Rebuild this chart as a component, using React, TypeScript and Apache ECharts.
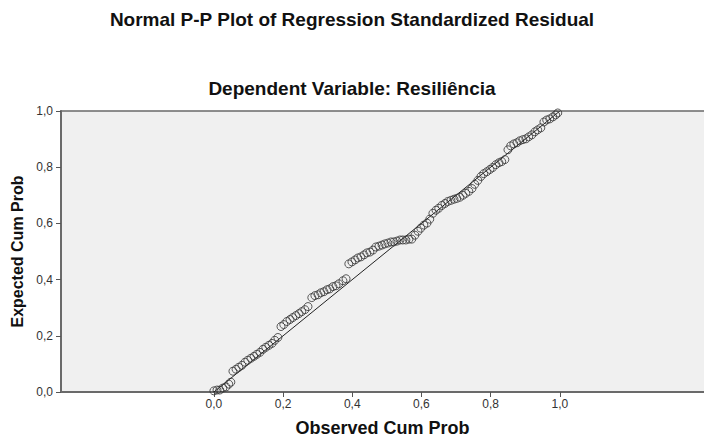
import React, { useEffect, useRef } from "react";
import * as echarts from "echarts";

const titleText = "Normal P-P Plot of Regression Standardized Residual";
const subtitleText = "Dependent Variable: Resiliência";
const xAxisName = "Observed Cum Prob";
const yAxisName = "Expected Cum Prob";
const tickValues = [0, 0.2, 0.4, 0.6, 0.8, 1.0];

const observedCumProb = [
  0.0, 0.009, 0.017, 0.026, 0.035, 0.043, 0.049, 0.055, 0.064, 0.072,
  0.081, 0.09, 0.098, 0.107, 0.116, 0.124, 0.133, 0.142, 0.15, 0.159,
  0.168, 0.176, 0.185, 0.194, 0.202, 0.211, 0.22, 0.228, 0.237, 0.246,
  0.254, 0.263, 0.272, 0.283, 0.292, 0.301, 0.309, 0.318, 0.327, 0.335,
  0.344, 0.353, 0.361, 0.373, 0.382, 0.39, 0.399, 0.408, 0.416, 0.425,
  0.434, 0.442, 0.451, 0.46, 0.468, 0.477, 0.486, 0.494, 0.503, 0.512,
  0.52, 0.529, 0.538, 0.546, 0.555, 0.564, 0.572, 0.581, 0.59, 0.598,
  0.607, 0.616, 0.624, 0.633, 0.642, 0.65, 0.659, 0.668, 0.676, 0.685,
  0.694, 0.702, 0.711, 0.72, 0.728, 0.737, 0.746, 0.754, 0.763, 0.772,
  0.78, 0.789, 0.798, 0.806, 0.815, 0.824, 0.832, 0.841, 0.85, 0.858,
  0.867, 0.876, 0.884, 0.893, 0.902, 0.91, 0.919, 0.928, 0.936, 0.945,
  0.954, 0.962, 0.971, 0.98, 0.988, 0.994,
];

const expectedCumProb = [
  0.004, 0.007, 0.007, 0.014, 0.018, 0.028, 0.035, 0.074, 0.081, 0.088,
  0.095, 0.106, 0.113, 0.12, 0.127, 0.134, 0.141, 0.152, 0.159, 0.166,
  0.173, 0.184, 0.194, 0.233, 0.24, 0.251, 0.258, 0.265, 0.272, 0.279,
  0.286, 0.293, 0.304, 0.336, 0.343, 0.346, 0.353, 0.357, 0.364, 0.367,
  0.375, 0.378, 0.385, 0.396, 0.403, 0.456, 0.463, 0.47, 0.477, 0.481,
  0.488, 0.495, 0.498, 0.505, 0.516, 0.519, 0.523, 0.527, 0.53, 0.534,
  0.534, 0.537, 0.541, 0.541, 0.541, 0.544, 0.544, 0.558, 0.572, 0.583,
  0.594, 0.601, 0.615, 0.636, 0.647, 0.654, 0.664, 0.671, 0.678, 0.682,
  0.686, 0.689, 0.693, 0.7, 0.707, 0.714, 0.724, 0.739, 0.753, 0.767,
  0.777, 0.784, 0.792, 0.799, 0.809, 0.816, 0.82, 0.827, 0.862, 0.876,
  0.883, 0.887, 0.894, 0.898, 0.901, 0.908, 0.915, 0.926, 0.933, 0.94,
  0.961, 0.968, 0.972, 0.979, 0.986, 0.993,
];

const referenceLine = [
  [0, 0],
  [1, 1],
];

const fmt = (v: number) => v.toFixed(1).replace(".", ",");

export default function App() {
  const ref = useRef<HTMLDivElement>(null);
  useEffect(() => {
    document.body.style.margin = "0";
    document.body.style.overflow = "hidden";
    document.documentElement.style.overflow = "hidden";
    if (!ref.current) return;
    const chart = echarts.init(ref.current, undefined, { renderer: "svg" });
    const points = observedCumProb.map((x, i) => [x, expectedCumProb[i]]);
    const font = "Arial, 'Liberation Sans', sans-serif";
    chart.setOption({
      animation: false,
      backgroundColor: "#ffffff",
      graphic: [
        {
          type: "text",
          x: 352,
          y: 19,
          style: {
            text: titleText,
            align: "center",
            verticalAlign: "middle",
            fontFamily: font,
            fontSize: 19,
            fontWeight: "bold",
            fill: "#111",
          },
        },
        {
          type: "text",
          x: 352,
          y: 88,
          style: {
            text: subtitleText,
            align: "center",
            verticalAlign: "middle",
            fontFamily: font,
            fontSize: 19,
            fontWeight: "bold",
            fill: "#111",
          },
        },
      ],
      grid: {
        left: 61,
        top: 111,
        right: 0,
        bottom: 48,
        show: true,
        backgroundColor: "#f0f0f0",
        borderColor: "#6a6a6a",
        borderWidth: 1.5,
      },
      xAxis: {
        type: "value",
        min: -0.442,
        max: 1.463,
        name: xAxisName,
        nameLocation: "middle",
        nameGap: 27,
        nameTextStyle: {
          fontFamily: font,
          fontSize: 18,
          fontWeight: "bold",
          color: "#111",
          padding: [0, 16, 0, 0],
        },
        splitLine: { show: false },
        axisLine: { show: true, onZero: false, lineStyle: { color: "#6a6a6a", width: 2 } },
        axisTick: {
          show: true,
          customValues: tickValues,
          length: 5,
          lineStyle: { color: "#555", width: 1 },
        },
        axisLabel: {
          customValues: tickValues,
          formatter: fmt,
          fontFamily: font,
          fontSize: 12,
          color: "#333",
          margin: 6,
        },
      },
      yAxis: {
        type: "value",
        min: 0,
        max: 1,
        interval: 0.2,
        name: yAxisName,
        nameLocation: "middle",
        nameGap: 33,
        nameTextStyle: { fontFamily: font, fontSize: 16, fontWeight: "bold", color: "#111" },
        splitLine: { show: false },
        axisLine: { show: true, onZero: false, lineStyle: { color: "#6a6a6a", width: 2 } },
        axisTick: { show: true, length: 5, lineStyle: { color: "#555", width: 1 } },
        axisLabel: {
          formatter: fmt,
          fontFamily: font,
          fontSize: 12,
          color: "#333",
          margin: 8,
        },
      },
      series: [
        {
          type: "line",
          data: referenceLine,
          symbol: "none",
          lineStyle: { color: "#222", width: 1 },
          z: 2,
        },
        {
          type: "scatter",
          data: points,
          symbol: "circle",
          symbolSize: 8,
          itemStyle: { color: "rgba(0,0,0,0)", borderColor: "#333", borderWidth: 1 },
          z: 3,
        },
      ],
    });
    return () => chart.dispose();
  }, []);
  return (
    <div style={{ width: 704, height: 442, overflow: "hidden" }}>
      <div ref={ref} style={{ width: 720, height: 442 }} />
    </div>
  );
}
